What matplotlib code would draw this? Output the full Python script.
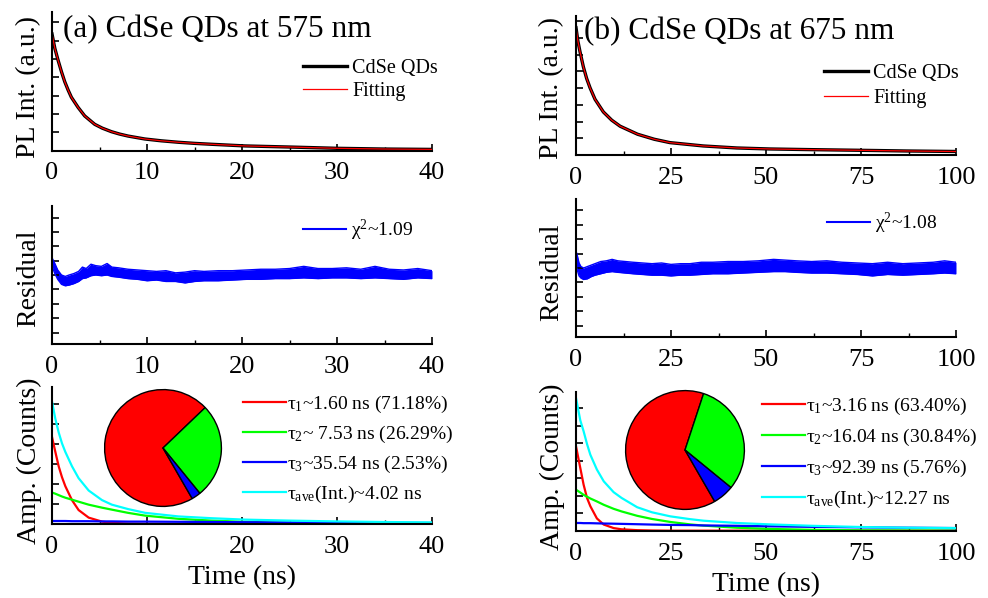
import matplotlib
matplotlib.use('Agg')
import matplotlib.pyplot as plt
from matplotlib.ticker import MultipleLocator, NullFormatter

plt.rcParams['font.family'] = ['Liberation Serif', 'DejaVu Serif']
plt.rcParams['mathtext.fontset'] = 'custom'
plt.rcParams['mathtext.rm'] = 'Liberation Serif'
plt.rcParams['mathtext.it'] = 'Liberation Serif:italic'
plt.rcParams['mathtext.default'] = 'regular'

# ---------------- data ----------------
# panel (a): 575 nm
decay_a_t = [0, 0.3, 0.63, 1.0, 1.34, 1.7, 2.04, 2.74, 3.44, 4.5, 5.3, 6.25, 7.1, 8.0,
             9.76, 11.5, 13.3, 15, 16.8, 20.3, 25, 30, 35, 40]
decay_a = [6.37, 5.58, 4.95, 4.3, 3.76, 3.3, 2.91, 2.36, 1.89, 1.43, 1.22, 1.03, 0.9, 0.79,
           0.63, 0.53, 0.45, 0.39, 0.34, 0.25, 0.19, 0.12, 0.08, 0.06]

res_a_t = [0, 0.3, 0.6, 1.0, 1.4, 1.8, 2.3, 2.8, 3.2, 3.6, 4.1, 4.6, 5.2, 5.8, 6.3, 7, 8, 9,
           10, 11, 12, 13, 14, 15, 16, 17.5, 19, 20.5, 22, 23.5, 25, 26.5, 28, 29.5, 31,
           32.5, 34, 35.5, 37, 38.5, 40]
res_a_hi = [1.2, 0.8, 0.35, 0.0, -0.1, 0.0, 0.1, 0.25, 0.55, 0.45, 0.75, 0.65, 0.6, 0.8,
            0.55, 0.5, 0.4, 0.35, 0.3, 0.25, 0.3, 0.15, 0.2, 0.3, 0.25, 0.3, 0.3, 0.35,
            0.4, 0.4, 0.45, 0.6, 0.45, 0.45, 0.5, 0.4, 0.6, 0.4, 0.35, 0.45, 0.3]
res_a_lo = [0.6, 0.1, -0.3, -0.65, -0.75, -0.7, -0.6, -0.45, -0.25, -0.2, -0.05, 0.0,
            -0.05, 0.0, -0.1, -0.15, -0.25, -0.3, -0.4, -0.35, -0.45, -0.45, -0.55, -0.45,
            -0.4, -0.4, -0.35, -0.3, -0.3, -0.25, -0.25, -0.2, -0.25, -0.2, -0.2, -0.25,
            -0.2, -0.25, -0.3, -0.2, -0.25]

comp_a_t = [0, 0.35, 0.7, 1.05, 1.4, 2.1, 2.8, 3.86, 5.26, 6.3, 8, 9.8, 13.3, 16.8, 20.3,
            25, 30, 35, 40]
comp_a_red = [4.37, 3.62, 2.9, 2.35, 1.9, 1.2, 0.7, 0.32, 0.12, 0.06, 0.02, 0.01, 0, 0, 0,
              0, 0, 0, 0]
comp_a_green = [1.58, 1.52, 1.45, 1.38, 1.32, 1.22, 1.12, 0.97, 0.82, 0.72, 0.56, 0.42,
                0.26, 0.17, 0.11, 0.06, 0.03, 0.02, 0.01]
comp_a_blue = [0.15, 0.15, 0.15, 0.15, 0.15, 0.14, 0.14, 0.14, 0.13, 0.13, 0.12, 0.12,
               0.11, 0.1, 0.09, 0.08, 0.07, 0.06, 0.05]
comp_a_cyan = [6.15, 5.28, 4.6, 4.05, 3.62, 2.9, 2.3, 1.68, 1.2, 0.97, 0.75, 0.56, 0.38,
               0.29, 0.22, 0.17, 0.13, 0.1, 0.08]
pie_a = [71.18, 26.29, 2.53]
labels_a = [r'$\tau_1$~1.60 ns (71.18%)', r'$\tau_2$~ 7.53 ns (26.29%)',
            r'$\tau_3$~35.54 ns (2.53%)', r'$\tau_{ave}$(Int.)~4.02 ns']
chi_a = r'$\chi^2$~1.09'
title_a = '(a) CdSe QDs at 575 nm'

# panel (b): 675 nm
decay_b_t = [0, 0.5, 1.05, 1.93, 2.8, 3.7, 5.0, 7.2, 9.4, 11.6, 16.2, 20.6, 24.7, 33.5,
             42.3, 51, 62, 75, 87, 100]
decay_b = [7.6, 6.8, 6.17, 5.27, 4.57, 4.01, 3.33, 2.57, 2.08, 1.72, 1.24, 0.94, 0.74,
           0.54, 0.42, 0.36, 0.32, 0.28, 0.24, 0.21]

res_b_t = [0, 0.4, 0.8, 1.3, 2, 3, 4, 5, 6.5, 8, 9.5, 11, 13, 15, 17.5, 20, 22.5, 25, 27.5,
           30, 33, 36, 40, 44, 48, 52, 55, 58, 62, 66, 70, 74, 78, 82, 86, 90, 94, 97, 100]
res_b_hi = [1.2, 0.8, 0.35, 0.1, 0.0, 0.1, 0.2, 0.3, 0.45, 0.5, 0.6, 0.5, 0.45, 0.4, 0.35,
            0.3, 0.35, 0.25, 0.3, 0.3, 0.4, 0.4, 0.45, 0.45, 0.5, 0.6, 0.55, 0.5, 0.45,
            0.5, 0.4, 0.35, 0.3, 0.4, 0.3, 0.35, 0.4, 0.5, 0.4]
res_b_lo = [0.2, -0.2, -0.55, -0.7, -0.8, -0.75, -0.6, -0.5, -0.4, -0.3, -0.25, -0.3,
            -0.35, -0.4, -0.45, -0.5, -0.5, -0.55, -0.5, -0.5, -0.45, -0.4, -0.4, -0.35,
            -0.3, -0.25, -0.25, -0.3, -0.35, -0.35, -0.4, -0.45, -0.55, -0.45, -0.5,
            -0.45, -0.4, -0.35, -0.4]

comp_b_t = [0, 1.13, 2.0, 2.9, 3.77, 5.5, 7.3, 9.9, 12, 16.1, 20, 24.8, 30, 33.6, 42.3, 51,
            62, 75, 87, 100]
comp_b_red = [4.82, 3.58, 2.63, 1.87, 1.4, 0.7, 0.35, 0.15, 0.08, 0.03, 0.01, 0, 0, 0, 0,
              0, 0, 0, 0, 0]
comp_b_green = [2.34, 2.18, 2.05, 1.94, 1.84, 1.67, 1.48, 1.25, 1.1, 0.85, 0.67, 0.5, 0.36,
                0.29, 0.17, 0.1, 0.05, 0.02, 0.01, 0.005]
comp_b_blue = [0.44, 0.44, 0.43, 0.43, 0.43, 0.42, 0.41, 0.4, 0.39, 0.37, 0.35, 0.33, 0.32,
               0.3, 0.28, 0.25, 0.22, 0.19, 0.17, 0.15]
comp_b_cyan = [7.58, 6.3, 5.68, 4.95, 4.34, 3.49, 2.82, 2.2, 1.87, 1.34, 1.05, 0.82, 0.66,
               0.57, 0.44, 0.36, 0.28, 0.21, 0.17, 0.15]
pie_b = [63.40, 30.84, 5.76]
labels_b = [r'$\tau_1$~3.16 ns (63.40%)', r'$\tau_2$~16.04 ns (30.84%)',
            r'$\tau_3$~92.39 ns (5.76%)', r'$\tau_{ave}$(Int.)~12.27 ns']
chi_b = r'$\chi^2$~1.08'
title_b = '(b) CdSe QDs at 675 nm'

xmax = [40, 100]
xmajor = [10, 25]
top_ylim = [7.57, 8.3]
bot_ylim = [6.9, 7.92]

RED, GREEN, BLUE, CYAN = '#FF0000', '#00FF00', '#0000FF', '#00FFFF'

# ---------------- figure ----------------
W, H = 988, 598
fig = plt.figure(figsize=(W / 100, H / 100), dpi=100)


def px_axes(l, t, r, b):
    return fig.add_axes([l / W, 1 - b / H, (r - l) / W, (b - t) / H])


def fpt(x, y):
    return (x / W, 1 - y / H)


def style(ax, xm, major):
    for s in ['top', 'right']:
        ax.spines[s].set_visible(False)
    for s in ['left', 'bottom']:
        ax.spines[s].set_linewidth(1.5)
    ax.set_xlim(0, xm)
    ax.xaxis.set_major_locator(MultipleLocator(major))
    ax.xaxis.set_minor_locator(MultipleLocator(major / 2))
    ax.yaxis.set_major_locator(MultipleLocator(1))
    ax.yaxis.set_major_formatter(NullFormatter())
    ax.tick_params(axis='both', which='major', direction='in', length=5, width=1.2,
                   labelsize=19, pad=8.5)
    ax.tick_params(axis='x', which='minor', direction='in', length=3, width=1.0)
    ax.tick_params(axis='y', which='both', left=True, right=False)
    ax.tick_params(axis='x', which='both', top=False)


def ylabel(ax, text, x, y):
    ax.set_ylabel(text, fontsize=20, va='center')
    ax.yaxis.set_label_coords(*fpt(x, y), transform=fig.transFigure)


def legend(ax, handles, labels, x, y, fs, spacing, hl, tp=0.25):
    ax.legend(handles, labels, loc='upper left', bbox_to_anchor=fpt(x, y),
              bbox_transform=fig.transFigure, frameon=False, fontsize=fs,
              borderpad=0, borderaxespad=0, handlelength=hl, handletextpad=tp,
              labelspacing=spacing)


panels = [
    dict(box_top=(52, 12, 432, 150.5), box_mid=(52, 206, 432, 344), box_bot=(52, 386.5, 432, 524),
         decay_t=decay_a_t, decay=decay_a, res_t=res_a_t, res_hi=res_a_hi, res_lo=res_a_lo,
         ct=comp_a_t, cr=comp_a_red, cg=comp_a_green, cb=comp_a_blue, cc=comp_a_cyan,
         pie=pie_a, labels=labels_a, chi=chi_a, title=title_a, title_xy=(63, 37),
         ylx=29, yly=(87, 278, 461), leg_top=(303, 59, 0.2), leg_mid=(303, 218),
         leg_bot=(243, 394, 0.45), pie_c=(163, 448, 59)),
    dict(box_top=(576, 16, 956, 155), box_mid=(576, 199, 956, 337), box_bot=(576, 392, 956, 530.7),
         decay_t=decay_b_t, decay=decay_b, res_t=res_b_t, res_hi=res_b_hi, res_lo=res_b_lo,
         ct=comp_b_t, cr=comp_b_red, cg=comp_b_green, cb=comp_b_blue, cc=comp_b_cyan,
         pie=pie_b, labels=labels_b, chi=chi_b, title=title_b, title_xy=(584, 39),
         ylx=552, yly=(88, 272, 467), leg_top=(824, 64, 0.3), leg_mid=(827, 211),
         leg_bot=(762, 396, 0.5), pie_c=(685, 450, 60)),
]

for i, p in enumerate(panels):
    # --- top: PL decay ---
    ax = px_axes(*p['box_top'])
    style(ax, xmax[i], xmajor[i])
    ax.set_ylim(0, top_ylim[i])
    l1, = ax.plot(p['decay_t'], p['decay'], color='black', lw=2.4)
    l2, = ax.plot(p['decay_t'], p['decay'], color=RED, lw=0.9)
    ylabel(ax, 'PL Int. (a.u.)', p['ylx'], p['yly'][0])
    lx, ly, ls = p['leg_top']
    legend(ax, [l1, l2], ['CdSe QDs', 'Fitting'], lx, ly, 14.5, ls, 2.2)
    fig.text(*fpt(*p['title_xy']), p['title'], fontsize=22.5, ha='left', va='baseline')

    # --- middle: residual ---
    ax = px_axes(*p['box_mid'])
    style(ax, xmax[i], xmajor[i])
    ax.set_ylim(-4.8, 4.8)
    ax.fill_between(p['res_t'], p['res_lo'], p['res_hi'], color=BLUE, lw=0)
    ax.plot(p['res_t'], p['res_hi'], color=BLUE, lw=1)
    ax.plot(p['res_t'], p['res_lo'], color=BLUE, lw=1)
    h, = ax.plot([], [], color=BLUE, lw=1.5)
    ylabel(ax, 'Residual', p['ylx'], p['yly'][1])
    legend(ax, [h], [p['chi']], *p['leg_mid'], 14, 0.2, 2.2)

    # --- bottom: amplitude components ---
    ax = px_axes(*p['box_bot'])
    style(ax, xmax[i], xmajor[i])
    ax.set_ylim(0, bot_ylim[i])
    hr, = ax.plot(p['ct'], p['cr'], color=RED, lw=1.6)
    hg, = ax.plot(p['ct'], p['cg'], color=GREEN, lw=1.6)
    hb, = ax.plot(p['ct'], p['cb'], color=BLUE, lw=1.6)
    hc, = ax.plot(p['ct'], p['cc'], color=CYAN, lw=1.6)
    ylabel(ax, 'Amp. (Counts)', p['ylx'], p['yly'][2])
    ax.set_xlabel('Time (ns)', fontsize=20, labelpad=5.5)
    lx, ly, ls = p['leg_bot']
    legend(ax, [hr, hg, hb, hc], p['labels'], lx, ly, 14, ls, 2.2, tp=0.05)

    # pie inset
    cx, cy, r = p['pie_c']
    pax = px_axes(cx - r, cy - r, cx + r, cy + r)
    pax.pie(p['pie'], colors=[RED, GREEN, BLUE], startangle=300, counterclock=False,
            wedgeprops=dict(edgecolor='black', linewidth=1.0))
    pax.set_xlim(-1.01, 1.01)
    pax.set_ylim(-1.01, 1.01)
    pax.set_aspect('equal')

fig.savefig('out.png', dpi=100)
